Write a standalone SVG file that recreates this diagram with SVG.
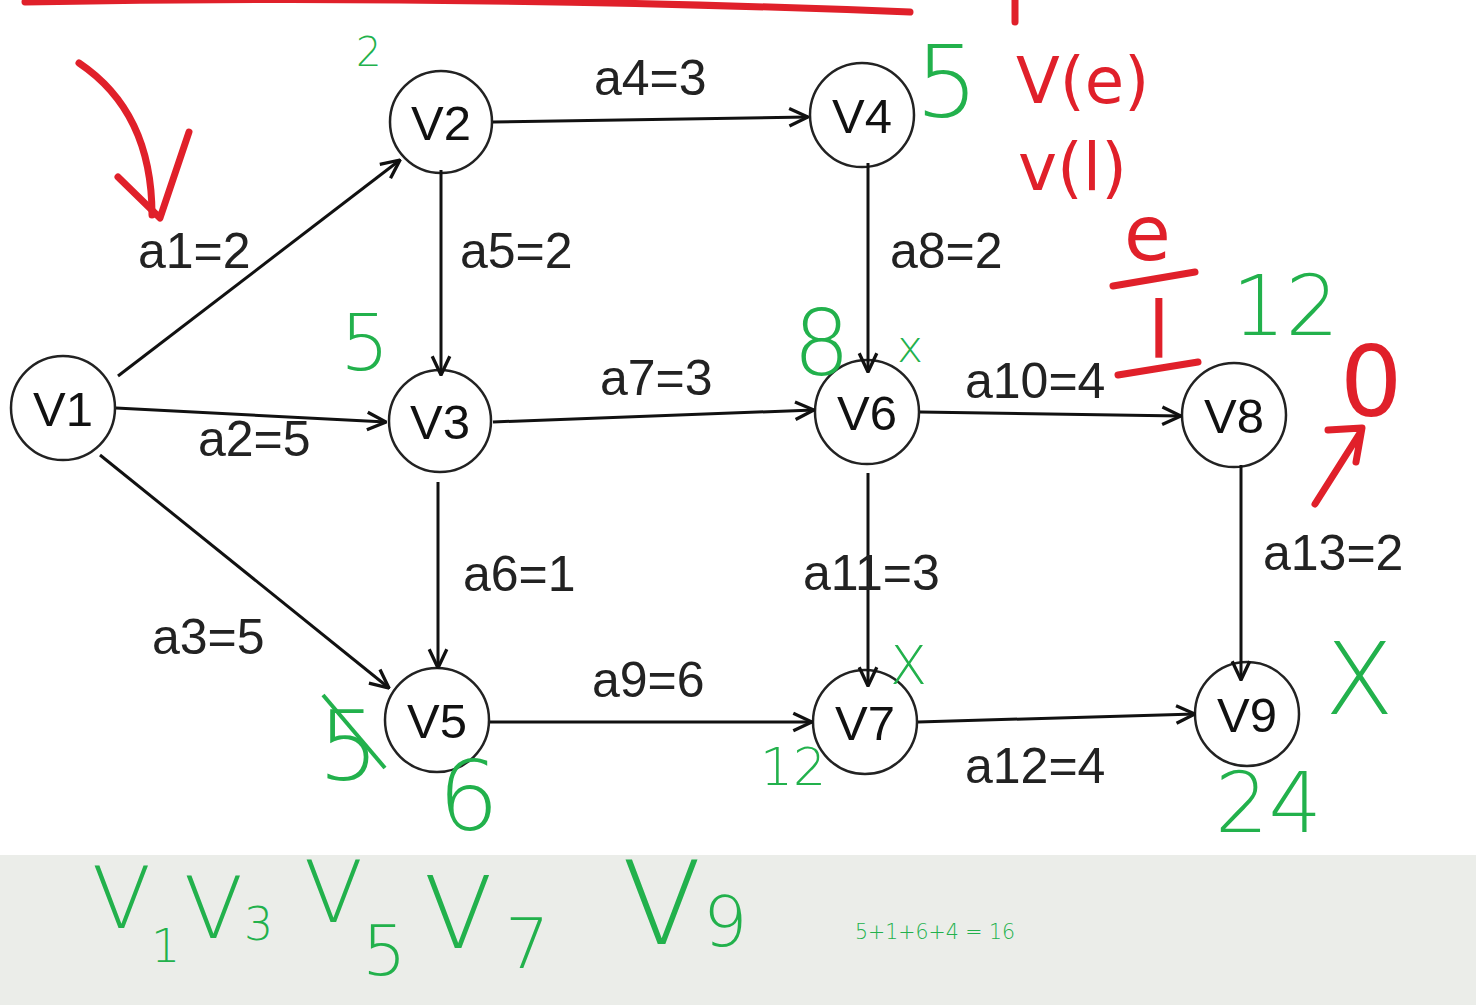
<svg xmlns="http://www.w3.org/2000/svg" width="1476" height="1005" viewBox="0 0 1476 1005">
<style>
.node circle{fill:#fff;stroke:#222;stroke-width:2.5}
.node text{font-family:"Liberation Sans",Arial,sans-serif;font-size:49px;fill:#111;text-anchor:middle}
.edge{stroke:#111;stroke-width:3;fill:none;marker-end:url(#ah)}
.lbl{font-family:"Liberation Sans",Arial,sans-serif;font-size:50px;fill:#222}
.g{font-family:"DejaVu Sans","Liberation Sans",sans-serif;font-weight:200;fill:#22b14c}
.r{font-family:"DejaVu Sans","Liberation Sans",sans-serif;fill:#e0202a}
.rs{stroke:#e0202a;stroke-width:7;fill:none;stroke-linecap:round;stroke-linejoin:round}
</style>
<defs>
<marker id="ah" viewBox="0 0 20 20" refX="19" refY="10" markerWidth="22" markerHeight="22" markerUnits="userSpaceOnUse" orient="auto">
<path d="M2,2 L19,10 L2,18" fill="none" stroke="#111" stroke-width="3"/>
</marker>
</defs>
<rect width="1476" height="1005" fill="#fff"/>
<rect x="0" y="855" width="1476" height="150" fill="#ebede9"/>

<g id="V1" class="node"><circle cx="63" cy="408" r="52"/><text x="63" y="426">V1</text></g>
<g id="V2" class="node"><circle cx="441" cy="122" r="51"/><text x="441" y="140">V2</text></g>
<g id="V3" class="node"><circle cx="440" cy="421" r="51"/><text x="440" y="439">V3</text></g>
<g id="V4" class="node"><circle cx="862" cy="115" r="52"/><text x="862" y="133">V4</text></g>
<g id="V5" class="node"><circle cx="437" cy="720" r="52"/><text x="437" y="738">V5</text></g>
<g id="V6" class="node"><circle cx="867" cy="412" r="52"/><text x="867" y="430">V6</text></g>
<g id="V7" class="node"><circle cx="865" cy="722" r="52"/><text x="865" y="740">V7</text></g>
<g id="V8" class="node"><circle cx="1234" cy="415" r="52"/><text x="1234" y="433">V8</text></g>
<g id="V9" class="node"><circle cx="1247" cy="714" r="52"/><text x="1247" y="732">V9</text></g>

<g id="connectors">
<line class="edge" x1="118" y1="376" x2="400" y2="160"/>
<line class="edge" x1="116" y1="408" x2="386" y2="422"/>
<line class="edge" x1="100" y1="455" x2="389" y2="688"/>
<line class="edge" x1="493" y1="122" x2="808" y2="117"/>
<line class="edge" x1="441" y1="170" x2="441" y2="375"/>
<line class="edge" x1="438" y1="482" x2="438" y2="668"/>
<line class="edge" x1="493" y1="422" x2="814" y2="410"/>
<line class="edge" x1="868" y1="163" x2="868" y2="372"/>
<line class="edge" x1="490" y1="722" x2="812" y2="722"/>
<line class="edge" x1="920" y1="412" x2="1181" y2="416"/>
<line class="edge" x1="868" y1="473" x2="868" y2="686"/>
<line class="edge" x1="918" y1="722" x2="1195" y2="714"/>
<line class="edge" x1="1241" y1="465" x2="1241" y2="680"/>
<text class="lbl" x="138" y="268">a1=2</text>
<text class="lbl" x="198" y="456">a2=5</text>
<text class="lbl" x="152" y="654">a3=5</text>
<text class="lbl" x="594" y="95">a4=3</text>
<text class="lbl" x="460" y="268">a5=2</text>
<text class="lbl" x="463" y="591">a6=1</text>
<text class="lbl" x="600" y="395">a7=3</text>
<text class="lbl" x="890" y="268">a8=2</text>
<text class="lbl" x="592" y="697">a9=6</text>
<text class="lbl" x="965" y="398">a10=4</text>
<text class="lbl" x="803" y="590">a11=3</text>
<text class="lbl" x="965" y="783">a12=4</text>
<text class="lbl" x="1263" y="570">a13=2</text>
</g>

<g id="red-annotations">
<path class="rs" d="M25,2 Q450,-6 910,12"/>
<path class="rs" d="M1015,0 L1015,22"/>
<path class="rs" d="M79,63 Q152,112 152,215"/>
<path class="rs" d="M118,177 L160,218 L189,132"/>
<path class="rs" d="M1113,286 L1195,272"/>
<path class="rs" d="M1118,375 L1198,362"/>
<path class="rs" d="M1315,504 L1360,433 M1328,430 L1362,428 L1356,462"/>
<text class="r" x="1016" y="103" font-size="64">V(e)</text>
<text class="r" x="1018" y="190" font-size="66">v(l)</text>
<text class="r" x="1124" y="260" font-size="76">e</text>
<text class="r" x="1148" y="358" font-size="78">l</text>
<text class="r" x="1340" y="416" font-size="98">0</text>
</g>

<g id="green-annotations">
<text class="g" x="356" y="66" font-size="40">2</text>
<text class="g" x="915" y="117" font-size="100">5</text>
<text class="g" x="340" y="370" font-size="78">5</text>
<text class="g" x="793" y="375" font-size="90">8</text>
<text class="g" x="897" y="362" font-size="44">x</text>
<text class="g" x="1232" y="335" font-size="84">12</text>
<text class="g" x="318" y="780" font-size="96">5</text>
<path d="M323,695 L385,768" stroke="#22b14c" stroke-width="4" fill="none"/>
<text class="g" x="438" y="830" font-size="96">6</text>
<text class="g" x="760" y="785" font-size="52">12</text>
<text class="g" x="890" y="684" font-size="54">X</text>
<text class="g" x="1325" y="714" font-size="100">X</text>
<text class="g" x="1215" y="832" font-size="84">24</text>
<text class="g" font-size="86"><tspan x="92" y="928">V</tspan><tspan x="151" y="962" font-size="46">1</tspan></text>
<text class="g" font-size="86"><tspan x="184" y="938">V</tspan><tspan x="244" y="940" font-size="46">3</tspan></text>
<text class="g" font-size="86"><tspan x="304" y="922">V</tspan><tspan x="362" y="975" font-size="70">5</tspan></text>
<text class="g" font-size="100"><tspan x="424" y="948">V</tspan><tspan x="505" y="968" font-size="70">7</tspan></text>
<text class="g" font-size="116"><tspan x="622" y="944">V</tspan><tspan x="703" y="946" font-size="70">9</tspan></text>
<text class="g" x="855" y="939" font-size="20.5" font-family="Liberation Sans, sans-serif" font-weight="400">5+1+6+4 = 16</text>
</g>
</svg>
